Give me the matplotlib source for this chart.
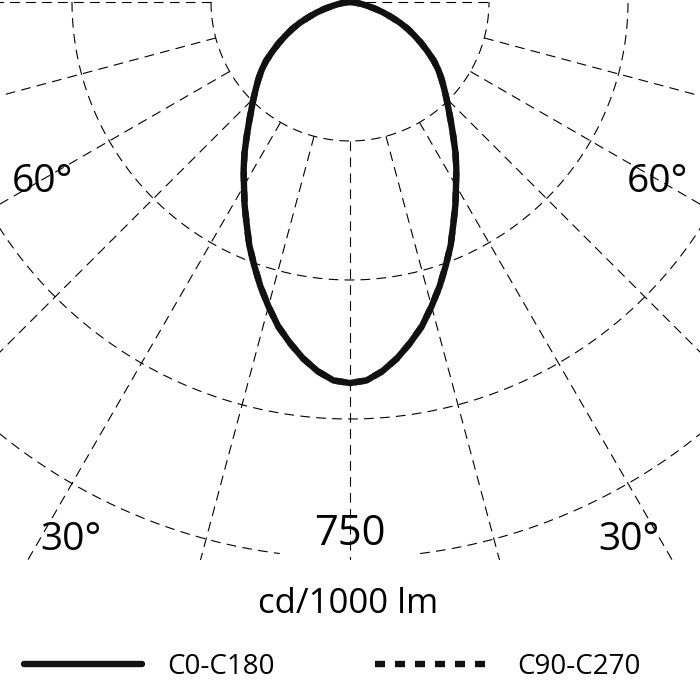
import numpy as np
import matplotlib
matplotlib.use('Agg')
import matplotlib.pyplot as plt

plt.rcParams['font.family'] = ['Open Sans', 'DejaVu Sans']
plt.rcParams['lines.scale_dashes'] = False

# luminous intensity (cd/1000 lm) vs angle from nadir, half-plane (symmetric)
ANGLES = [0, 2.5, 5, 7.5, 10, 12.5, 15, 17.5, 20, 22.5, 25, 27.5, 30, 32.5, 35, 37.5,
          40, 42.5, 45, 47.5, 50, 52.5, 55, 57.5, 60, 62.5, 65, 67.5, 70, 72.5, 75,
          77.5, 80, 82.5, 85, 87.5, 90]
C0_C180 = [514, 511, 500, 485, 467, 448, 425, 402, 378, 355, 330, 308, 286, 267, 248, 229,
           212, 197, 184, 172, 161, 150, 138, 124, 111, 98, 86, 73, 59, 47, 35,
           24, 16, 9, 5, 2, 0]
C90_C270 = [514, 511, 500, 485, 467, 448, 425, 402, 378, 355, 330, 308, 286, 267, 248, 229,
            212, 197, 184, 172, 161, 150, 138, 124, 111, 98, 86, 73, 59, 47, 35,
            24, 16, 9, 5, 2, 0]

RINGS = [187.5, 375, 562.5, 750]
SPOKES = [-90, -75, -60, -45, -30, -15, 0, 15, 30, 45, 60, 75, 90]
RING_LABEL = '750'
UNIT = 'cd/1000 lm'
SERIES = ['C0-C180', 'C90-C270']

K = 750 / 556  # cd per pixel


def to_xy(theta, r):
    t = np.radians(theta)
    return r * np.sin(t), -r * np.cos(t)


def mirror(angles, values):
    a = np.array(angles, dtype=float)
    v = np.array(values, dtype=float)
    return np.concatenate([-a[::-1], a[1:]]), np.concatenate([v[::-1], v[1:]])


fig = plt.figure(figsize=(7, 7), dpi=100)
ax = fig.add_axes([0, 140 / 700, 1, 560 / 700])
ax.set_xlim(-350 * K, 350 * K)
ax.set_ylim(-558 * K, 2 * K)
ax.axis('off')

grid = dict(color='black', lw=0.8, dashes=(7, 4.5), zorder=1)

# rings
for r in RINGS:
    t = np.linspace(-90, 90, 721)
    if r == RINGS[-1]:
        # gap behind the value label
        for part in (t[t < -7], t[t > 7]):
            ax.plot(*to_xy(part, r), **grid)
    else:
        ax.plot(*to_xy(t, r), **grid)

# spokes
for a in SPOKES:
    if a == 90:
        r0, r1 = 0, RINGS[0]
    else:
        r0, r1 = RINGS[0], 1200
    ax.plot(*to_xy(np.array([a, a]), np.array([r0, r1])), **grid)

th, v90 = mirror(ANGLES, C90_C270)
l90, = ax.plot(*to_xy(th, v90), color='#111111', lw=4.6, dashes=(7.2, 7.2),
               dash_capstyle='butt', zorder=3)
th, v0 = mirror(ANGLES, C0_C180)
l0, = ax.plot(*to_xy(th, v0), color='#111111', lw=4.6, solid_capstyle='round',
              solid_joinstyle='round', zorder=4)

# angle labels
for x, y, s in [(-415, -256, '60°'), (415, -256, '60°'),
                (-376, -739, '30°'), (376, -739, '30°')]:
    ax.text(x, y, s, ha='center', va='baseline', fontsize=28, clip_on=False)
ax.text(0, -732.5, RING_LABEL, ha='center', va='baseline', fontsize=30, clip_on=False)

fig.text(348 / 700, 1 - 613 / 700, UNIT, ha='center', va='baseline', fontsize=25)

fig.legend([l0, l90], SERIES, loc='center left', bbox_to_anchor=(24 / 700, 1 - 667 / 700),
           ncol=2, frameon=False, borderpad=0, borderaxespad=0, fontsize=20,
           handlelength=4.25, handletextpad=0.9, columnspacing=3.6)

fig.savefig('out.png', dpi=100)
